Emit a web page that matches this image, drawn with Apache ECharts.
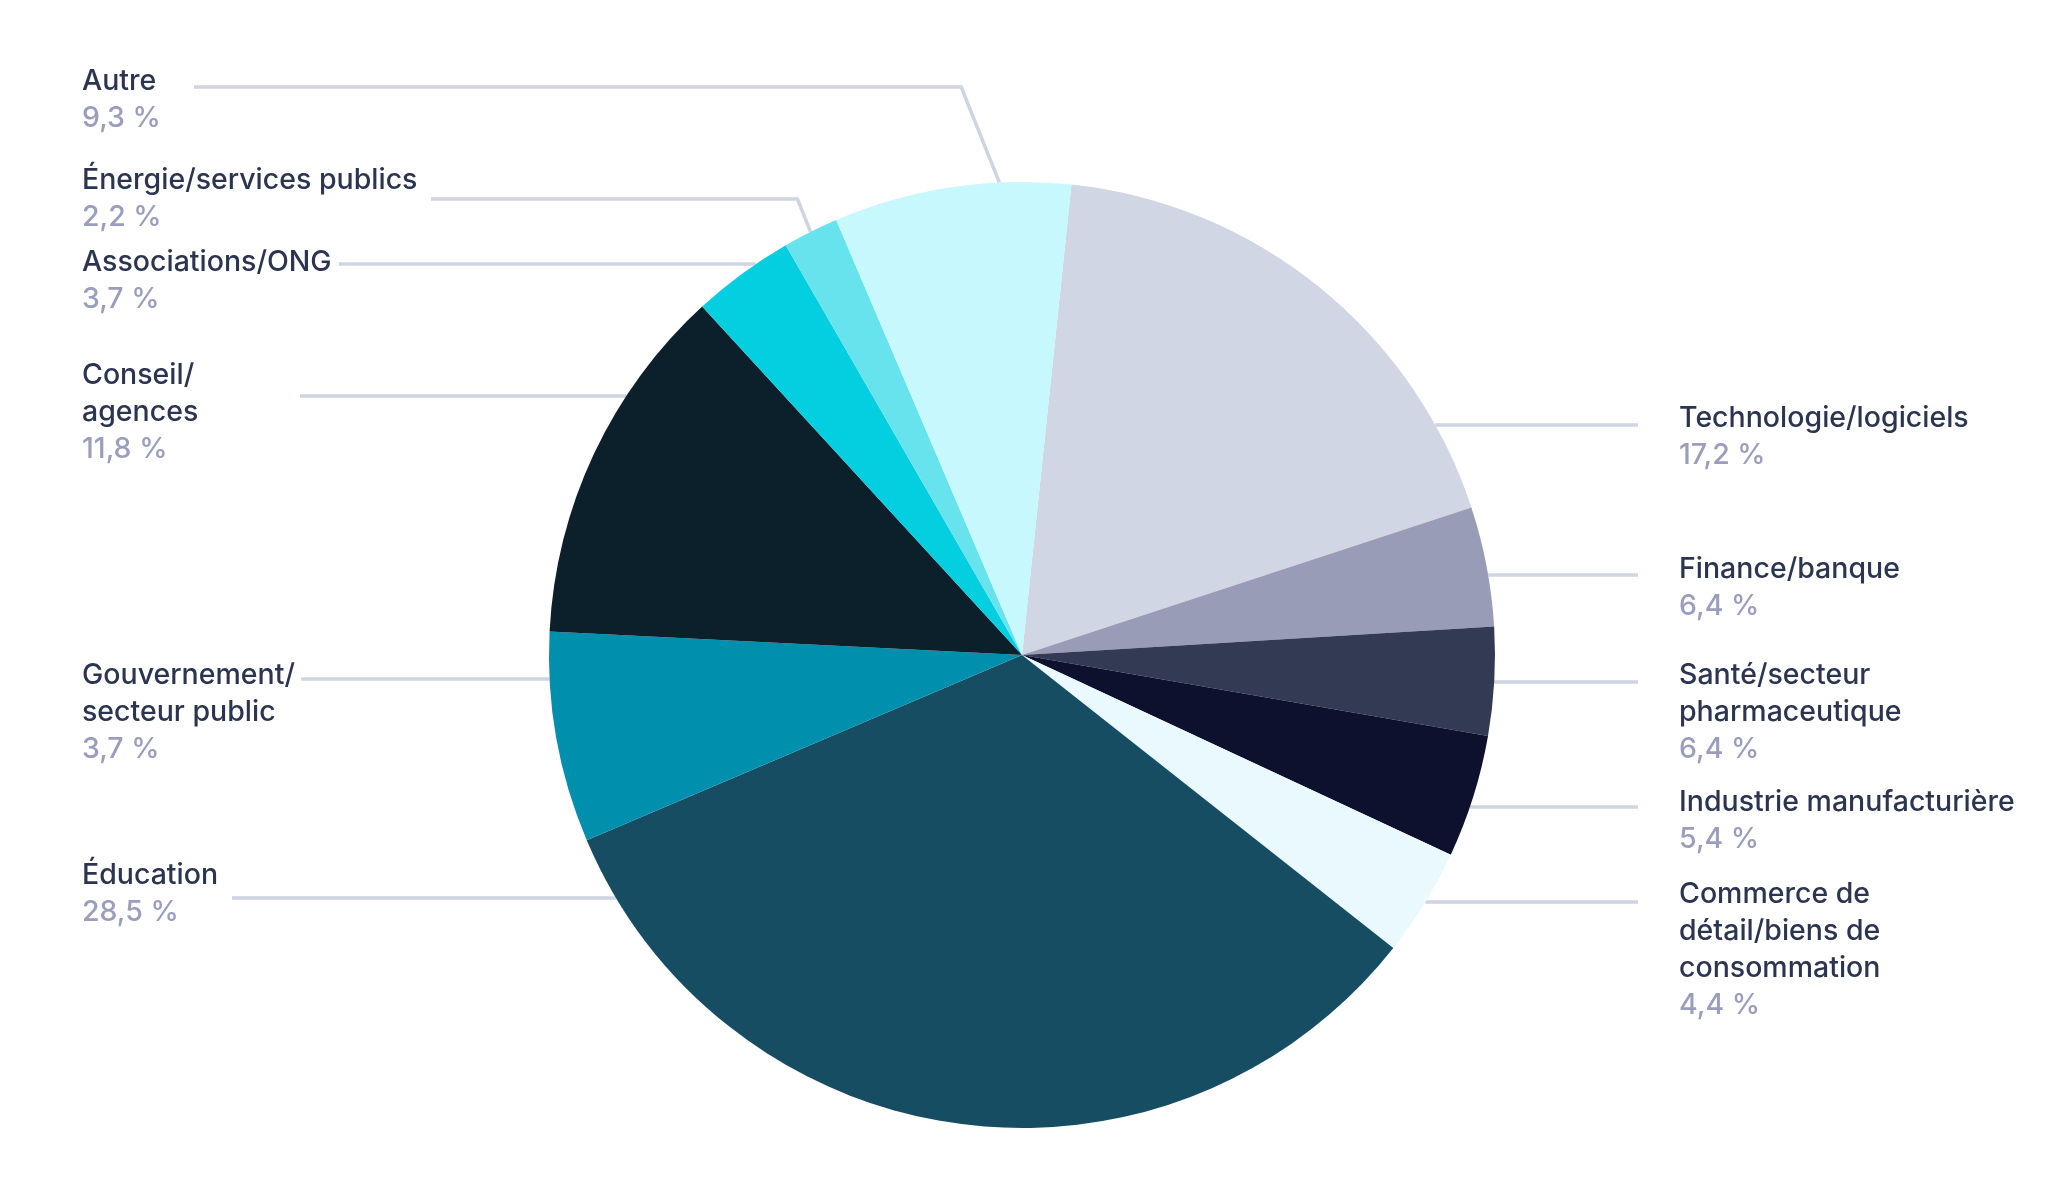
<!DOCTYPE html>
<html><head><meta charset="utf-8">
<script src="https://cdn.jsdelivr.net/npm/echarts@6/dist/echarts.min.js"></script>
<style>html,body{margin:0;padding:0;background:#fff;overflow:hidden}#c{width:2058px;height:1185px}</style>
</head><body><div id="c"></div>
<script>
// ---- data ----
const categories = [
  'Technologie/logiciels',
  'Finance/banque',
  'Santé/secteur\npharmaceutique',
  'Industrie manufacturière',
  'Commerce de\ndétail/biens de\nconsommation',
  'Éducation',
  'Gouvernement/\nsecteur public',
  'Conseil/\nagences',
  'Associations/ONG',
  'Énergie/services publics',
  'Autre'
];
// slice sizes as drawn in the picture (%)
const sliceShares = [18.3, 4.1, 3.7, 4.2, 3.7, 33.0, 7.2, 12.4, 3.5, 1.9, 8.1];
// percentages printed in the labels
const shareLabels = ['17,2 %', '6,4 %', '6,4 %', '5,4 %', '4,4 %', '28,5 %', '3,7 %', '11,8 %', '3,7 %', '2,2 %', '9,3 %'];
const sliceColors = ['#d1d6e4', '#989cb6', '#333a53', '#0e112d', '#e9f9fe', '#174d63', '#0090ae', '#0b202a', '#04cfe0', '#66e3ec', '#c7f8fd'];

// ---- layout ----
const CX = 1022, CY = 655, R = 473, START = 84;
const LEFT_X = 82, RIGHT_X = 1679, RIGHT_LINE_END = 1638, DY = 3;
const labelSpec = [
  {side: 'right', top: 397, lineY: 425},
  {side: 'right', top: 548, lineY: 575},
  {side: 'right', top: 654, lineY: 682},
  {side: 'right', top: 781, lineY: 807},
  {side: 'right', top: 873, lineY: 902},
  {side: 'left', top: 854, lineY: 898, lineX: 232},
  {side: 'left', top: 654, lineY: 679, lineX: 301},
  {side: 'left', top: 354, lineY: 396, lineX: 300},
  {side: 'left', top: 241, lineY: 264, lineX: 339},
  {side: 'left', top: 159, lineY: 199, lineX: 431},
  {side: 'left', top: 60, lineY: 87, lineX: 194, anchor: 0.7}
];

const total = sliceShares.reduce((a, b) => a + b, 0);
const bounds = [];
let acc = 90 - START;
sliceShares.forEach(v => { const a0 = acc; acc += v / total * 360; bounds.push([a0, acc]); });
function norm(a) { return ((a % 360) + 360) % 360; }
function edgePt(theta) { const t = theta * Math.PI / 180; return [CX + R * Math.sin(t), CY - R * Math.cos(t)]; }

const chart = echarts.init(document.getElementById('c'), null, {renderer: 'canvas'});
const FONT = 'Inter, "Noto Sans", sans-serif';
chart.setOption({
  animation: false,
  backgroundColor: '#ffffff',
  series: [{
    type: 'pie',
    center: [CX, CY],
    radius: [0, R],
    startAngle: START,
    clockwise: true,
    avoidLabelOverlap: false,
    emphasis: {disabled: true},
    itemStyle: {borderWidth: 0},
    data: categories.map((n, i) => ({name: n, value: sliceShares[i], itemStyle: {color: sliceColors[i]}})),
    label: {
      show: true,
      position: 'outside',
      formatter: p => p.name.split('\n').map(s => '{n|' + s + '}').join('\n') + '\n{p|' + shareLabels[p.dataIndex] + '}',
      rich: {
        n: {fontFamily: FONT, fontSize: 28.5, fontWeight: 500, color: '#2c3550', lineHeight: 37},
        p: {fontFamily: FONT, fontSize: 28.5, fontWeight: 500, color: '#9a9ebc', lineHeight: 37}
      }
    },
    labelLine: {show: true, length: 10, length2: 10, lineStyle: {color: '#cfd4e3', width: 3.5}},
    labelLayout: function (p) {
      const i = p.dataIndex, s = labelSpec[i], a0 = bounds[i][0], a1 = bounds[i][1];
      const endX = s.side === 'right' ? RIGHT_LINE_END : s.lineX;
      const dy = s.lineY - CY;
      let pts = null;
      if (Math.abs(dy) < R) {
        const dx = Math.sqrt(R * R - dy * dy);
        const ex = s.side === 'right' ? CX + dx : CX - dx;
        const th = norm(Math.atan2(ex - CX, CY - s.lineY) * 180 / Math.PI);
        if (norm(th - a0) <= a1 - a0) pts = [[ex, s.lineY], [endX, s.lineY]];
      }
      if (!pts) {
        const e = edgePt(a0 + (s.anchor != null ? s.anchor : 0.5) * (a1 - a0));
        const off = 0.4 * (e[1] - s.lineY);
        const bx = s.side === 'right' ? e[0] + off : e[0] - off;
        pts = [e, [bx, s.lineY], [endX, s.lineY]];
      }
      return {
        x: s.side === 'right' ? RIGHT_X : LEFT_X,
        y: s.top + DY,
        align: 'left',
        verticalAlign: 'top',
        labelLinePoints: pts
      };
    }
  }]
});
</script>
</body></html>
